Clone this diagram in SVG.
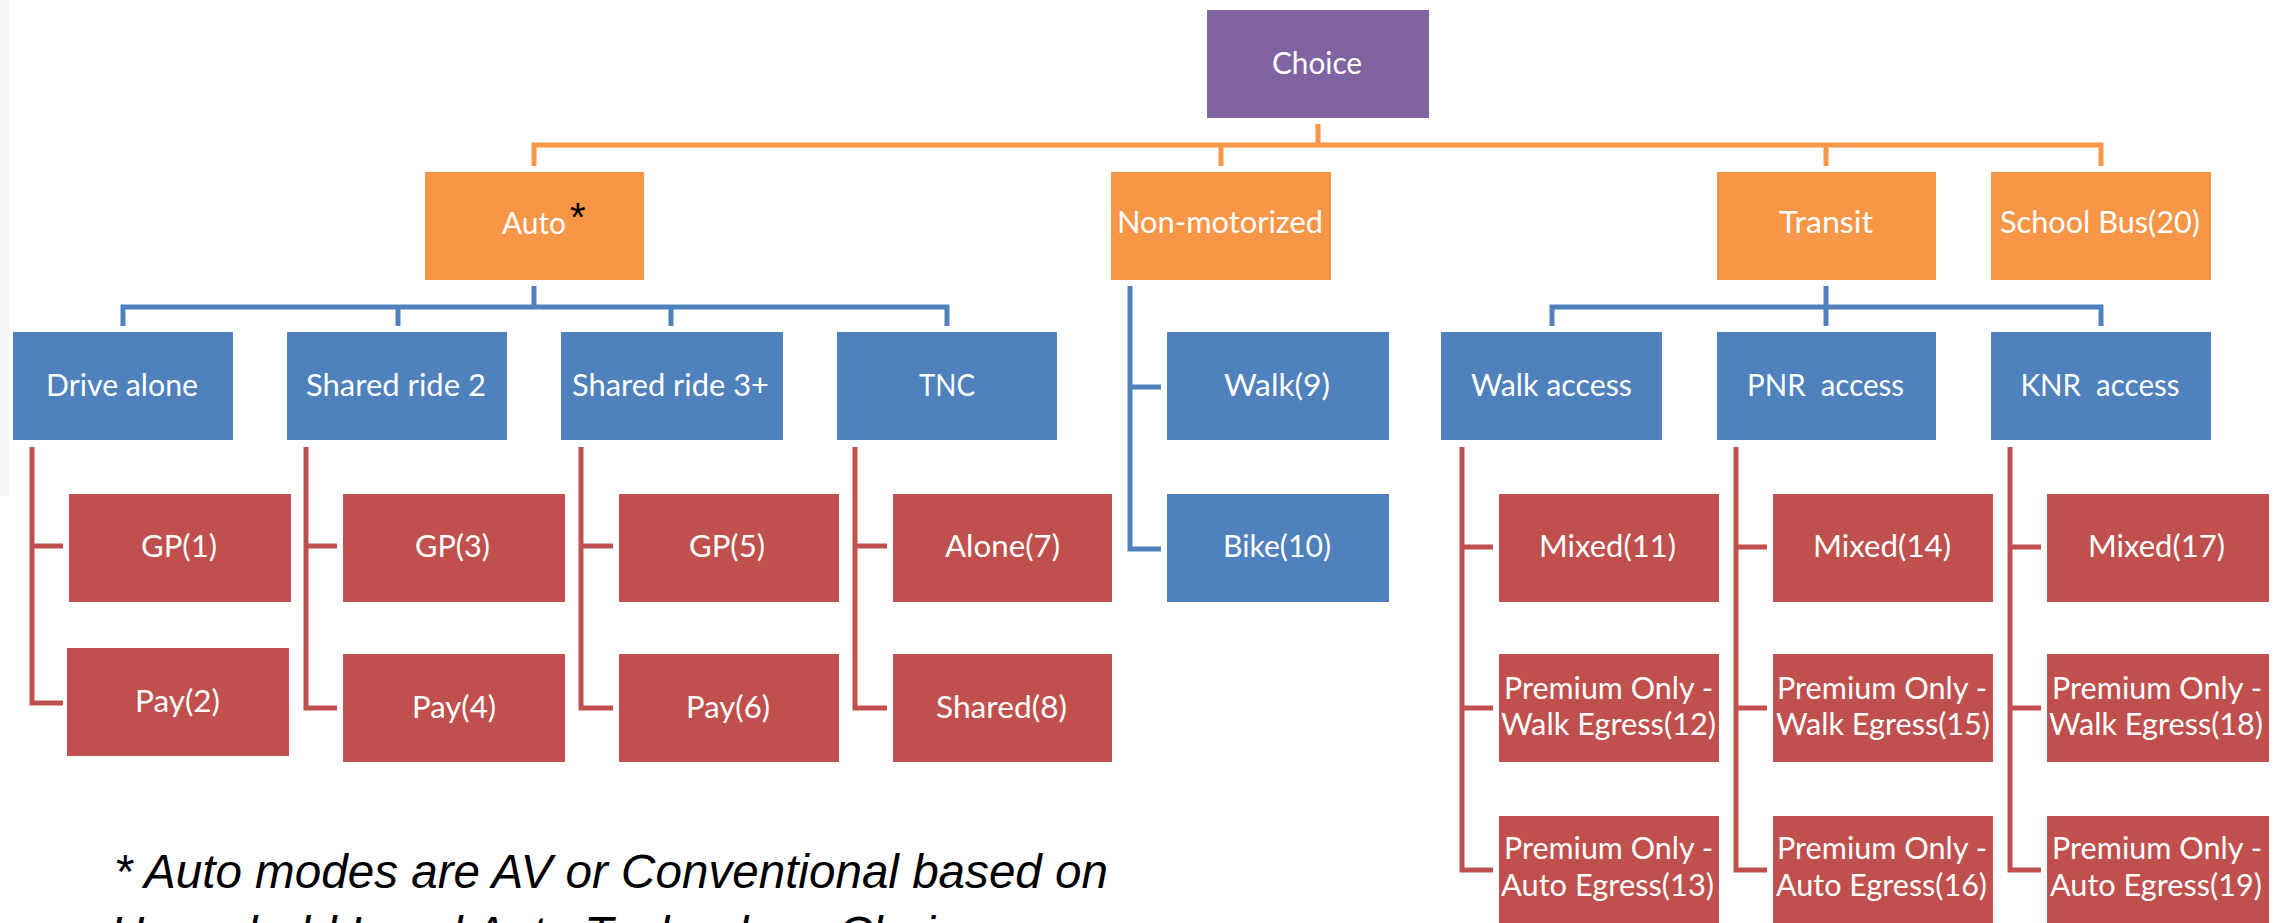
<svg xmlns="http://www.w3.org/2000/svg" width="2279" height="923" viewBox="0 0 2279 923">
<style>
.p{fill:#8064A2}.o{fill:#F79646}.b{fill:#4F81BD}.r{fill:#C0504D}
.t{font-family:Lato,'Liberation Sans',sans-serif;font-size:30px;fill:#FFFFFF;text-anchor:middle}
.c{fill:none;stroke-width:5;stroke-linejoin:miter}
.co{stroke:#F79646}.cb{stroke:#4F81BD}.cr{stroke:#C0504D}
.fn{font-family:'Liberation Sans',Arial,sans-serif;font-style:italic;font-size:48px;fill:#000000}
</style>
<rect x="0" y="0" width="2279" height="923" fill="#FFFFFF"/>
<rect x="0" y="0" width="9" height="496" fill="#F4F4F4"/>
<g id="connectors">
<path class="c co" d="M1318 124 V145 M534 166 V145 H2101 V166 M1221 145 V166 M1826 145 V166"/>
<path class="c cb" d="M534 286 V307 M123 326 V307 H947 V326 M398 307 V326 M671 307 V326"/>
<path class="c cb" d="M1826 286 V326 M1552 326 V307 H2101 V326"/>
<path class="c cb" d="M1130 286 V549 H1161 M1130 387 H1161"/>
<path class="c cr" d="M32 447 V703 H63 M32 546 H63"/>
<path class="c cr" d="M306 447 V708 H337 M306 546 H337"/>
<path class="c cr" d="M581 447 V708 H613 M581 546 H613"/>
<path class="c cr" d="M855 447 V708 H887 M855 546 H887"/>
<path class="c cr" d="M1462 447 V870 H1493 M1462 547 H1493 M1462 708 H1493"/>
<path class="c cr" d="M1736 447 V870 H1767 M1736 547 H1767 M1736 708 H1767"/>
<path class="c cr" d="M2010 447 V870 H2041 M2010 547 H2041 M2010 708 H2041"/>
</g>
<g id="choice"><rect class="p" x="1207" y="10" width="222" height="108"/><text class="t" x="1317" y="74" textLength="90" lengthAdjust="spacingAndGlyphs">Choice</text></g>
<g id="auto"><rect class="o" x="425" y="172" width="219" height="108"/><text class="t" x="534" y="234" textLength="64" lengthAdjust="spacingAndGlyphs">Auto</text><text x="570" y="231" font-family="'Liberation Sans',Arial,sans-serif" font-size="40" fill="#000000">*</text></g>
<g id="nonmotorized"><rect class="o" x="1111" y="172" width="220" height="108"/><text class="t" x="1220" y="233" textLength="206" lengthAdjust="spacingAndGlyphs">Non-motorized</text></g>
<g id="transit"><rect class="o" x="1717" y="172" width="219" height="108"/><text class="t" x="1826" y="233" textLength="94" lengthAdjust="spacingAndGlyphs">Transit</text></g>
<g id="schoolbus"><rect class="o" x="1991" y="172" width="220" height="108"/><text class="t" x="2100" y="233" textLength="200" lengthAdjust="spacingAndGlyphs">School Bus(20)</text></g>
<g id="drivealone"><rect class="b" x="13" y="332" width="220" height="108"/><text class="t" x="122" y="396" textLength="152" lengthAdjust="spacingAndGlyphs">Drive alone</text></g>
<g id="sr2"><rect class="b" x="287" y="332" width="220" height="108"/><text class="t" x="396" y="396" textLength="180" lengthAdjust="spacingAndGlyphs">Shared ride 2</text></g>
<g id="sr3"><rect class="b" x="561" y="332" width="222" height="108"/><text class="t" x="670.5" y="396" textLength="197" lengthAdjust="spacingAndGlyphs">Shared ride 3+</text></g>
<g id="tnc"><rect class="b" x="837" y="332" width="220" height="108"/><text class="t" x="947" y="396" textLength="56" lengthAdjust="spacingAndGlyphs">TNC</text></g>
<g id="walk9"><rect class="b" x="1167" y="332" width="222" height="108"/><text class="t" x="1277" y="396" textLength="106" lengthAdjust="spacingAndGlyphs">Walk(9)</text></g>
<g id="bike10"><rect class="b" x="1167" y="494" width="222" height="108"/><text class="t" x="1277" y="557" textLength="108" lengthAdjust="spacingAndGlyphs">Bike(10)</text></g>
<g id="walkaccess"><rect class="b" x="1441" y="332" width="221" height="108"/><text class="t" x="1551.5" y="396" textLength="161" lengthAdjust="spacingAndGlyphs">Walk access</text></g>
<g id="pnraccess"><rect class="b" x="1717" y="332" width="219" height="108"/><text class="t" x="1825.5" y="396" textLength="157" lengthAdjust="spacingAndGlyphs" xml:space="preserve" style="white-space:pre">PNR  access</text></g>
<g id="knraccess"><rect class="b" x="1991" y="332" width="220" height="108"/><text class="t" x="2100" y="396" textLength="159" lengthAdjust="spacingAndGlyphs" xml:space="preserve" style="white-space:pre">KNR  access</text></g>
<g id="gp1"><rect class="r" x="69" y="494" width="222" height="108"/><text class="t" x="179" y="557" textLength="76" lengthAdjust="spacingAndGlyphs">GP(1)</text></g>
<g id="pay2"><rect class="r" x="67" y="648" width="222" height="108"/><text class="t" x="177.5" y="712" textLength="85" lengthAdjust="spacingAndGlyphs">Pay(2)</text></g>
<g id="gp3"><rect class="r" x="343" y="494" width="222" height="108"/><text class="t" x="452.5" y="557" textLength="75" lengthAdjust="spacingAndGlyphs">GP(3)</text></g>
<g id="pay4"><rect class="r" x="343" y="654" width="222" height="108"/><text class="t" x="454" y="718" textLength="84" lengthAdjust="spacingAndGlyphs">Pay(4)</text></g>
<g id="gp5"><rect class="r" x="619" y="494" width="220" height="108"/><text class="t" x="727" y="557" textLength="76" lengthAdjust="spacingAndGlyphs">GP(5)</text></g>
<g id="pay6"><rect class="r" x="619" y="654" width="220" height="108"/><text class="t" x="728" y="718" textLength="84" lengthAdjust="spacingAndGlyphs">Pay(6)</text></g>
<g id="alone7"><rect class="r" x="893" y="494" width="219" height="108"/><text class="t" x="1002.5" y="557" textLength="115" lengthAdjust="spacingAndGlyphs">Alone(7)</text></g>
<g id="shared8"><rect class="r" x="893" y="654" width="219" height="108"/><text class="t" x="1001.5" y="718" textLength="131" lengthAdjust="spacingAndGlyphs">Shared(8)</text></g>
<g id="mixed11"><rect class="r" x="1499" y="494" width="220" height="108"/><text class="t" x="1607.5" y="557" textLength="137" lengthAdjust="spacingAndGlyphs">Mixed(11)</text></g>
<g id="premwalk12"><rect class="r" x="1499" y="654" width="220" height="108"/><text class="t" x="1608.5" y="699" textLength="209" lengthAdjust="spacingAndGlyphs">Premium Only -</text><text class="t" x="1608.5" y="735" textLength="215" lengthAdjust="spacingAndGlyphs">Walk Egress(12)</text></g>
<g id="premauto13"><rect class="r" x="1499" y="816" width="220" height="108"/><text class="t" x="1608.5" y="859" textLength="209" lengthAdjust="spacingAndGlyphs">Premium Only -</text><text class="t" x="1607.5" y="896" textLength="213" lengthAdjust="spacingAndGlyphs">Auto Egress(13)</text></g>
<g id="mixed14"><rect class="r" x="1773" y="494" width="220" height="108"/><text class="t" x="1882" y="557" textLength="138" lengthAdjust="spacingAndGlyphs">Mixed(14)</text></g>
<g id="premwalk15"><rect class="r" x="1773" y="654" width="220" height="108"/><text class="t" x="1882" y="699" textLength="210" lengthAdjust="spacingAndGlyphs">Premium Only -</text><text class="t" x="1883" y="735" textLength="214" lengthAdjust="spacingAndGlyphs">Walk Egress(15)</text></g>
<g id="premauto16"><rect class="r" x="1773" y="816" width="220" height="108"/><text class="t" x="1882" y="859" textLength="210" lengthAdjust="spacingAndGlyphs">Premium Only -</text><text class="t" x="1881.5" y="896" textLength="211" lengthAdjust="spacingAndGlyphs">Auto Egress(16)</text></g>
<g id="mixed17"><rect class="r" x="2047" y="494" width="222" height="108"/><text class="t" x="2156.5" y="557" textLength="137" lengthAdjust="spacingAndGlyphs">Mixed(17)</text></g>
<g id="premwalk18"><rect class="r" x="2047" y="654" width="222" height="108"/><text class="t" x="2157" y="699" textLength="210" lengthAdjust="spacingAndGlyphs">Premium Only -</text><text class="t" x="2156" y="735" textLength="214" lengthAdjust="spacingAndGlyphs">Walk Egress(18)</text></g>
<g id="premauto19"><rect class="r" x="2047" y="816" width="222" height="108"/><text class="t" x="2157" y="859" textLength="210" lengthAdjust="spacingAndGlyphs">Premium Only -</text><text class="t" x="2156" y="896" textLength="212" lengthAdjust="spacingAndGlyphs">Auto Egress(19)</text></g>
<g id="footnote">
<text class="fn" x="114" y="888" textLength="994" lengthAdjust="spacingAndGlyphs">* Auto modes are AV or Conventional based on</text>
<text class="fn" x="110" y="950" textLength="875" lengthAdjust="spacingAndGlyphs">Household Level Auto Technology Choice</text>
</g>
</svg>
